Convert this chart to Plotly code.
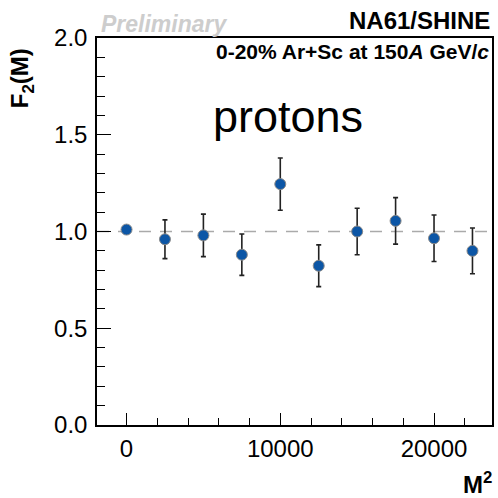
import plotly.graph_objects as go

# F2(M) for protons, 0-20% Ar+Sc at 150A GeV/c
m2 = [0, 2500, 5000, 7500, 10000, 12500, 15000, 17500, 20000, 22500]
f2 = [1.01, 0.96, 0.98, 0.88, 1.245, 0.823, 1.0, 1.055, 0.965, 0.9]
f2_err = [0.0, 0.10, 0.11, 0.107, 0.135, 0.108, 0.12, 0.12, 0.12, 0.118]

x_range = [-1920, 23770]
y_range = [0.0, 2.0]
x_ticks = [0, 10000, 20000]
x_tick_text = ["0", "10000", "20000"]
y_ticks = [0.0, 0.5, 1.0, 1.5, 2.0]
y_tick_text = ["0.0", "0.5", "1.0", "1.5", "2.0"]

FONT = "Liberation Sans, Arial, Helvetica, sans-serif"

fig = go.Figure()

# Poisson reference level F2 = 1
fig.add_hline(y=1.0, line=dict(color="#aaaaaa", width=1.5, dash="12px,9px"), layer="below")

fig.add_trace(go.Scatter(
    x=m2, y=f2,
    mode="markers",
    marker=dict(color="#0c56a6", size=11, line=dict(color="#8a8a8a", width=1)),
    error_y=dict(type="data", array=f2_err, visible=True,
                 color="#222222", thickness=1.6, width=2.5),
    showlegend=False,
))

axis_common = dict(
    showgrid=False, zeroline=False,
    showline=True, linecolor="black", linewidth=1.5, mirror=True,
    ticks="inside", tickcolor="black", tickwidth=1.2,
    tickfont=dict(family=FONT, size=24, color="black"),
)

fig.update_xaxes(
    range=x_range, tickmode="array", tickvals=x_ticks, ticktext=x_tick_text,
    ticklen=12, ticklabelstandoff=1,
    minor=dict(dtick=2000, tick0=0, ticks="inside", ticklen=7, tickcolor="black", tickwidth=1.2),
    **axis_common,
)
fig.update_yaxes(
    range=y_range, tickmode="array", tickvals=y_ticks, ticktext=y_tick_text,
    ticklen=14, ticklabelstandoff=3,
    minor=dict(dtick=0.1, tick0=0, ticks="inside", ticklen=8, tickcolor="black", tickwidth=1.2),
    **axis_common,
)

annotations = [
    dict(text="<b><i>Preliminary</i></b>", x=0.005, y=1.036, xanchor="left", yanchor="middle",
         font=dict(family=FONT, size=23, color="#cdcdcd")),
    dict(text="<b>NA61/SHINE</b>", x=1.0, y=1.044, xanchor="right", yanchor="middle",
         font=dict(family=FONT, size=24, color="black")),
    dict(text="<b>0-20% Ar+Sc at 150<i>A</i> GeV/<i>c</i></b>", x=0.997, y=0.964,
         xanchor="right", yanchor="middle", font=dict(family=FONT, size=21, color="black")),
    dict(text="protons", x=0.484, y=0.796, xanchor="center", yanchor="middle",
         font=dict(family=FONT, size=45, color="black")),
    dict(text="<b>F<sub>2</sub>(M)</b>", x=-0.189, y=0.897, xanchor="center", yanchor="middle",
         textangle=-90, font=dict(family=FONT, size=24, color="black")),
    dict(text="<b>M<sup>2</sup></b>", x=1.005, y=-0.15, xanchor="right", yanchor="middle",
         font=dict(family=FONT, size=24, color="black")),
]
for a in annotations:
    a.update(xref="paper", yref="paper", showarrow=False)

fig.update_layout(
    width=498, height=498,
    margin=dict(l=97, r=4, t=38, b=73),
    paper_bgcolor="white", plot_bgcolor="white",
    annotations=annotations,
    font=dict(family=FONT),
)

fig.write_html("out.html")
